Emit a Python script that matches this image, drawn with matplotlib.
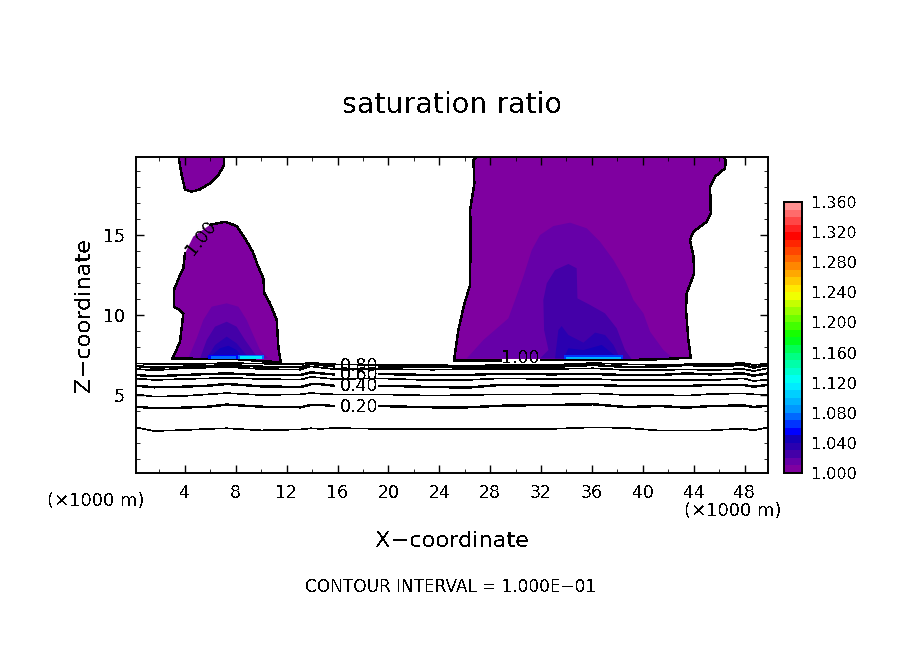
import numpy as np
import matplotlib
matplotlib.use("Agg")
import matplotlib.pyplot as plt
from matplotlib.colors import LinearSegmentedColormap, BoundaryNorm

plt.rcParams['font.family'] = ['DejaVu Sans']
plt.rcParams['text.antialiased'] = False
plt.rcParams['lines.antialiased'] = False

# ---------- data (km, km) ----------
blob_top_x = [3.54, 3.54, 3.75, 4.01, 4.53, 5.19, 5.97, 6.63, 7.10, 7.10]
blob_top_z = [19.875, 19.69, 18.75, 17.85, 17.71, 17.85, 18.23, 18.75, 19.38, 19.875]

left_x = [3.04, 3.62, 3.88, 3.62, 3.14, 3.14, 3.62, 3.88, 4.01, 4.66, 5.97, 7.15, 8.07, 8.73, 9.33, 9.77,
          10.17, 10.25, 10.69, 11.22, 11.35, 11.53, 10.17, 8.33, 5.97, 3.04]
left_z = [7.29, 8.33, 10.10, 10.31, 10.52, 11.56, 12.50, 12.92, 13.85, 14.90, 15.63, 15.83, 15.56, 14.79, 13.96, 13.02,
          12.29, 11.35, 10.73, 9.69, 8.02, 7.06, 7.10, 7.23, 7.25, 7.29]

left_101_x = [4.27, 4.93, 5.45, 6.11, 7.29, 8.21, 8.86, 9.38, 9.91, 10.56]
left_101_z = [7.29, 8.54, 9.69, 10.52, 10.73, 10.52, 9.69, 8.75, 7.81, 7.29]
left_102_x = [5.19, 5.72, 6.37, 7.29, 8.07, 8.73, 9.38, 9.78]
left_102_z = [7.29, 8.44, 9.27, 9.58, 9.27, 8.44, 7.71, 7.29]
left_103_x = [5.72, 6.37, 7.29, 8.07, 8.73, 9.12]
left_103_z = [7.29, 8.12, 8.65, 8.23, 7.60, 7.29]
left_104_x = [5.85, 6.76, 7.42, 8.07, 8.60]
left_104_z = [7.29, 7.92, 8.08, 7.81, 7.29]

right_x = [25.16, 25.50, 25.95, 26.42, 26.47, 26.42, 26.76, 26.68, 26.94, 46.33, 46.52, 46.47, 45.68, 45.29, 45.34,
           45.02, 43.98, 43.71, 43.98, 44.03, 43.45, 43.40, 43.58, 43.77, 41.09, 38.74, 32.45, 27.20, 25.16]
right_z = [7.15, 9.06, 10.63, 11.88, 15.52, 16.56, 18.23, 19.69, 19.875, 19.875, 19.69, 19.17, 18.65, 18.02, 16.35,
           15.83, 15.21, 14.69, 13.65, 12.60, 11.35, 10.31, 8.44, 7.33, 7.23, 7.19, 7.19, 7.15, 7.15]

right_101_x = [26.16, 27.47, 29.43, 29.96, 30.61, 31.27, 31.92, 32.97, 34.28, 35.59, 36.64, 37.69, 38.60, 39.26,
               40.05, 40.57, 41.62, 42.40]
right_101_z = [7.29, 8.44, 9.79, 10.94, 12.40, 14.06, 15.0, 15.56, 15.77, 15.42, 14.58, 13.44, 12.19, 10.94,
               10.10, 8.96, 7.81, 7.29]
right_102_x = [31.92, 32.58, 32.24, 32.18, 32.45, 33.10, 34.15, 34.80, 34.86, 35.85, 37.03, 37.95, 38.60, 39.13]
right_102_z = [7.29, 7.81, 9.06, 10.94, 11.98, 12.81, 13.19, 12.92, 11.04, 10.63, 10.10, 9.17, 7.81, 7.23]
right_103_x = [33.10, 33.36, 33.62, 34.15, 35.33, 36.25, 37.03, 37.69, 38.21]
right_103_z = [7.29, 9.06, 9.31, 8.75, 8.27, 8.90, 8.75, 8.13, 7.29]
right_104_x = [33.76, 34.15, 35.33, 36.77, 37.42, 38.08]
right_104_z = [7.29, 7.92, 7.81, 8.13, 7.71, 7.29]

# narrow saturated strips just above the cloud base
strip_x0 = [5.85, 6.05, 8.20, 8.35, 33.81, 34.00]
strip_x1 = [8.15, 8.00, 10.22, 10.10, 38.42, 38.25]
strip_z0 = [7.25, 7.27, 7.22, 7.25, 7.24, 7.28]
strip_z1 = [7.50, 7.42, 7.50, 7.42, 7.48, 7.40]
strip_val = [1.055, 1.075, 1.075, 1.115, 1.06, 1.09]

line_x = [0.16, 1.6, 3.9, 5.8, 7.3, 10.0, 13.1, 13.9, 14.7, 15.7, 19.3, 23.5, 26.2, 28.8, 32.7, 36.1, 38.7, 41.4,
          43.4, 45.3, 47.9, 48.7, 49.84]
z_010 = [2.98, 2.75, 2.81, 2.88, 2.92, 2.79, 2.85, 2.92, 2.88, 2.94, 2.88, 2.88, 2.88, 2.88, 2.88, 2.98, 2.94, 2.77,
         2.77, 2.79, 2.90, 2.79, 2.98]
z_020 = [4.27, 4.17, 4.21, 4.27, 4.40, 4.27, 4.23, 4.38, 4.38, 4.31, 4.31, 4.23, 4.23, 4.33, 4.38, 4.42, 4.25, 4.31,
         4.21, 4.31, 4.35, 4.25, 4.33]
z_030 = [5.04, 4.90, 4.94, 5.04, 5.12, 5.00, 5.04, 5.12, 5.08, 5.04, 5.04, 4.96, 5.00, 5.04, 5.04, 5.10, 5.00, 5.00,
         4.96, 5.06, 5.10, 5.04, 5.04]
z_040 = [5.58, 5.48, 5.52, 5.58, 5.69, 5.54, 5.50, 5.67, 5.67, 5.58, 5.58, 5.50, 5.46, 5.63, 5.60, 5.63, 5.56, 5.56,
         5.56, 5.63, 5.63, 5.52, 5.63]
z_050 = [6.04, 5.94, 6.00, 6.04, 6.08, 6.00, 5.96, 6.13, 6.08, 6.00, 6.04, 5.92, 5.94, 6.04, 6.00, 6.00, 5.92, 5.92,
         5.94, 5.92, 6.04, 5.875, 5.96]
z_060 = [6.25, 6.17, 6.25, 6.31, 6.35, 6.25, 6.25, 6.42, 6.35, 6.29, 6.31, 6.25, 6.25, 6.33, 6.29, 6.31, 6.25, 6.25,
         6.35, 6.29, 6.35, 6.21, 6.35]
z_070 = [6.625, 6.54, 6.67, 6.71, 6.75, 6.625, 6.58, 6.79, 6.71, 6.625, 6.625, 6.58, 6.625, 6.625, 6.625, 6.67, 6.56,
         6.56, 6.60, 6.56, 6.625, 6.50, 6.67]
z_080 = [6.81, 6.71, 6.77, 6.81, 6.875, 6.77, 6.73, 6.94, 6.875, 6.79, 6.75, 6.75, 6.77, 6.79, 6.75, 6.875, 6.75,
         6.77, 6.875, 6.81, 6.875, 6.71, 6.875]
z_090 = [6.98, 6.92, 6.92, 6.96, 7.00, 6.96, 6.92, 7.04, 6.96, 6.92, 6.875, 6.875, 6.83, 6.875, 6.875, 7.00, 6.92,
         6.875, 6.92, 6.92, 7.00, 6.875, 6.96]

cbar_ticks = [1.000, 1.040, 1.080, 1.120, 1.160, 1.200, 1.240, 1.280, 1.320, 1.360]
x_ticks = [4, 8, 12, 16, 20, 24, 28, 32, 36, 40, 44, 48]
z_ticks = [5, 10, 15]
cmap_values = [0.0, 0.0286, 0.0571, 0.0857, 0.1143, 0.1429, 0.2222, 0.3333, 0.4444, 0.5, 0.6667, 0.7778, 0.8889, 1.0]
cmap_colors = ['#7f00a0', '#6600a8', '#4400a8', '#2a00b0', '#1400b8', '#0000ff', '#0090ff', '#00ffff', '#00ff70',
               '#00ff00', '#ffff00', '#ff8000', '#ff0000', '#ff9090']

# ---------- figure ----------
W, H = 904, 654
fig = plt.figure(figsize=(W / 100, H / 100), dpi=100, facecolor='white')
ax = fig.add_axes([136 / W, 1 - 473 / H, 632 / W, 316 / H])
cax = fig.add_axes([784 / W, 1 - 473 / H, 18 / W, 271 / H])

levels = np.linspace(1.0, 1.36, 37)
cmap = LinearSegmentedColormap.from_list('sat', list(zip(cmap_values, cmap_colors)), N=36)
norm = BoundaryNorm(levels, 36)
shade = lambda v: cmap(norm(v))

# filled regions
for xs, zs, v in [(blob_top_x, blob_top_z, 1.005), (left_x, left_z, 1.005), (right_x, right_z, 1.005),
                  (left_101_x, left_101_z, 1.015), (right_101_x, right_101_z, 1.015),
                  (left_102_x, left_102_z, 1.025), (right_102_x, right_102_z, 1.025),
                  (left_103_x, left_103_z, 1.035), (right_103_x, right_103_z, 1.035),
                  (left_104_x, left_104_z, 1.045), (right_104_x, right_104_z, 1.045)]:
    ax.fill(xs, zs, color=shade(v), lw=0, zorder=1)
for x0, x1, z0, z1, v in zip(strip_x0, strip_x1, strip_z0, strip_z1, strip_val):
    ax.fill([x0, x1, x1, x0], [z0, z0, z1, z1], color=shade(v), lw=0, zorder=3.2)

# cloud edges (1.00 contour); the left one breaks where its label sits
EDGE = 1.0
ax.plot(blob_top_x, blob_top_z, color='k', lw=EDGE, zorder=3)
ax.plot(left_x[:9], left_z[:9], color='k', lw=EDGE, zorder=3)
ax.plot(left_x[10:], left_z[10:], color='k', lw=EDGE, zorder=3)
ax.plot(right_x, right_z, color='k', lw=EDGE, zorder=3)

# sub-saturated contours: labelled every other line with a gap for the label
lx = np.array(line_x)
THIN, THICK = 0.45, 1.0
for zs, lw, gap in [(z_010, THIN, False), (z_020, THICK, True), (z_030, THIN, False), (z_040, THICK, True),
                    (z_050, THIN, False), (z_060, THICK, True), (z_070, THIN, False), (z_080, THICK, True),
                    (z_090, THIN, False)]:
    zz = np.array(zs, dtype=float)
    if gap:
        i = line_x.index(19.3)
        ax.plot(lx[:i], zz[:i], color='k', lw=lw, zorder=2)
        ax.plot(lx[i:], zz[i:], color='k', lw=lw, zorder=2)
    else:
        ax.plot(lx, zz, color='k', lw=lw, zorder=2)

lab_fs = 12.5
for txt, z in [('0.20', 4.27), ('0.40', 5.58), ('0.60', 6.25), ('0.80', 6.80)]:
    ax.text(17.7, z, txt, ha='center', va='center', fontsize=lab_fs, zorder=4)
ax.fill([28.9, 31.9, 31.9, 28.9], [6.95, 6.95, 7.22, 7.22], color='white', lw=0, zorder=3.5)
ax.text(30.4, 7.33, '1.00', ha='center', va='center', fontsize=lab_fs, zorder=4)
ax.text(5.25, 14.85, '1.00', ha='center', va='center', fontsize=lab_fs, rotation=52, zorder=4,
        rotation_mode='anchor')

ax.set_xlim(0.16, 49.84)
ax.set_ylim(0.125, 19.875)
ax.set_xticks(x_ticks)
ax.set_yticks(z_ticks)
ax.set_xticks(np.arange(2, 50, 4), minor=True)
ax.set_yticks([v for v in range(1, 20) if v % 5], minor=True)
ax.tick_params(which='major', direction='in', top=True, right=True, length=6, width=1.0, labelsize=12.5, pad=8)
ax.tick_params(which='minor', direction='in', top=True, right=True, length=3, width=0.6)
for s in ax.spines.values():
    s.set_linewidth(1.4)

# colour bar
cax.pcolormesh([0, 1], levels, np.array(levels[:-1])[:, None] + 0.005, cmap=cmap, norm=norm)
cax.set_xticks([])
cax.yaxis.tick_right()
cax.set_ylim(1.0, 1.36)
cax.set_yticks(cbar_ticks)
cax.set_yticklabels([f'{v:.3f}' for v in cbar_ticks])
cax.tick_params(axis='y', length=0, labelsize=11.5, pad=7)
for s in cax.spines.values():
    s.set_linewidth(1.4)

def ftext(px, py, s, **kw):
    fig.text(px / W, 1 - py / H, s, ha='center', va='center', **kw)

ftext(452, 105, 'saturation ratio', fontsize=20.5)
ftext(452, 541, 'X\u2212coordinate', fontsize=16.2)
ftext(84, 315, 'Z\u2212coordinate', fontsize=16.2, rotation=90)
ftext(96, 501, '(\u00d71000 m)', fontsize=13)
ftext(733, 511, '(\u00d71000 m)', fontsize=13)
ftext(451, 587, 'CONTOUR INTERVAL = 1.000E\u221201', fontsize=12.2)

fig.savefig('out.png', dpi=100, facecolor='white')
